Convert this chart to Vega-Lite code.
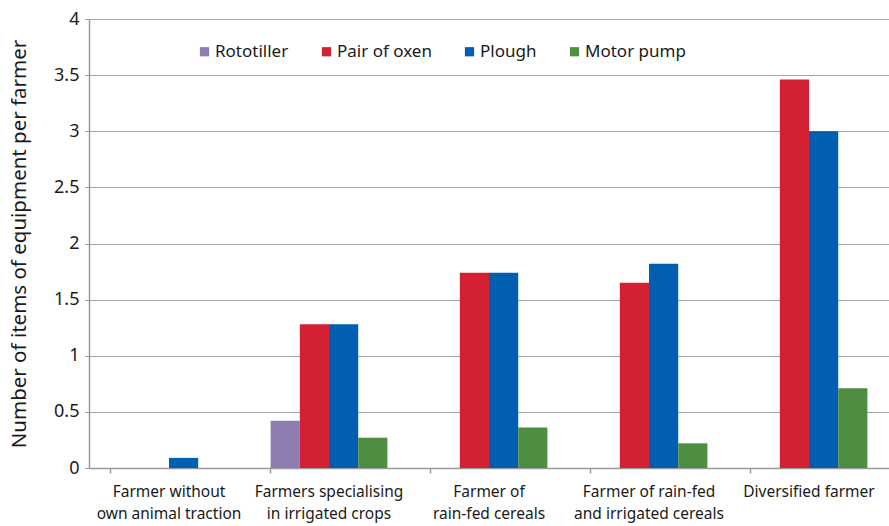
{
  "$schema": "https://vega.github.io/schema/vega-lite/v6.json",
  "width": 800,
  "height": 449,
  "autosize": {"type": "none"},
  "padding": {"left": 89, "top": 19, "right": 0, "bottom": 58},
  "background": "white",
  "config": {
    "view": {"stroke": null},
    "font": "Noto Sans"
  },
  "data": {
    "values": [
      {"farmer": "Farmer without own animal traction", "equipment": "Plough", "value": 0.09},
      {"farmer": "Farmers specialising in irrigated crops", "equipment": "Rototiller", "value": 0.42},
      {"farmer": "Farmers specialising in irrigated crops", "equipment": "Pair of oxen", "value": 1.28},
      {"farmer": "Farmers specialising in irrigated crops", "equipment": "Plough", "value": 1.28},
      {"farmer": "Farmers specialising in irrigated crops", "equipment": "Motor pump", "value": 0.27},
      {"farmer": "Farmer of rain-fed cereals", "equipment": "Pair of oxen", "value": 1.74},
      {"farmer": "Farmer of rain-fed cereals", "equipment": "Plough", "value": 1.74},
      {"farmer": "Farmer of rain-fed cereals", "equipment": "Motor pump", "value": 0.36},
      {"farmer": "Farmer of rain-fed and irrigated cereals", "equipment": "Pair of oxen", "value": 1.65},
      {"farmer": "Farmer of rain-fed and irrigated cereals", "equipment": "Plough", "value": 1.82},
      {"farmer": "Farmer of rain-fed and irrigated cereals", "equipment": "Motor pump", "value": 0.22},
      {"farmer": "Diversified farmer", "equipment": "Pair of oxen", "value": 3.46},
      {"farmer": "Diversified farmer", "equipment": "Plough", "value": 3.0},
      {"farmer": "Diversified farmer", "equipment": "Motor pump", "value": 0.71}
    ]
  },
  "mark": {"type": "bar"},
  "encoding": {
    "x": {
      "field": "farmer",
      "type": "nominal",
      "sort": ["Farmer without own animal traction", "Farmers specialising in irrigated crops", "Farmer of rain-fed cereals", "Farmer of rain-fed and irrigated cereals", "Diversified farmer"],
      "scale": {"paddingInner": 0.27, "paddingOuter": 0.135},
      "axis": {
        "title": null,
        "labelAngle": 0,
        "labelFontSize": 15.5,
        "labelColor": "#1a1a1a",
        "labelPadding": 11,
        "labelLineHeight": 22,
        "labelExpr": "datum.label == 'Farmer without own animal traction' ? ['Farmer without', 'own animal traction'] : datum.label == 'Farmers specialising in irrigated crops' ? ['Farmers specialising', 'in irrigated crops'] : datum.label == 'Farmer of rain-fed cereals' ? ['Farmer of', 'rain-fed cereals'] : datum.label == 'Farmer of rain-fed and irrigated cereals' ? ['Farmer of rain-fed', 'and irrigated cereals'] : datum.label",
        "bandPosition": 0,
        "domainColor": "#9a9a9a",
        "domainWidth": 1.5,
        "tickColor": "#9a9a9a",
        "tickSize": 5,
        "tickWidth": 1.5,
        "grid": false
      }
    },
    "xOffset": {
      "field": "equipment",
      "type": "nominal",
      "scale": {"domain": ["Rototiller", "Pair of oxen", "Plough", "Motor pump"]}
    },
    "y": {
      "field": "value",
      "type": "quantitative",
      "scale": {"domain": [0, 4], "nice": false},
      "axis": {
        "title": "Number of items of equipment per farmer",
        "titleFontSize": 20.5,
        "titleFontWeight": "normal",
        "titleColor": "#1a1a1a",
        "titlePadding": 24,
        "values": [0, 0.5, 1, 1.5, 2, 2.5, 3, 3.5, 4],
        "labelExpr": "datum.value",
        "labelFontSize": 18,
        "labelColor": "#1a1a1a",
        "labelPadding": 6,
        "domainColor": "#9a9a9a",
        "domainWidth": 1.5,
        "tickColor": "#9a9a9a",
        "tickSize": 4,
        "gridColor": "#a6a6a6",
        "gridWidth": 1.2
      }
    },
    "color": {
      "field": "equipment",
      "type": "nominal",
      "scale": {
        "domain": ["Rototiller", "Pair of oxen", "Plough", "Motor pump"],
        "range": ["#8d7cb2", "#d42033", "#005fb0", "#4f8e40"]
      },
      "legend": {
        "title": null,
        "orient": "none",
        "legendX": 107,
        "legendY": 24,
        "direction": "horizontal",
        "columns": 4,
        "columnPadding": 29,
        "symbolType": "square",
        "symbolSize": 85,
        "symbolStrokeWidth": 0,
        "labelFontSize": 17,
        "labelColor": "#1a1a1a",
        "labelOffset": 2
      }
    }
  }
}
